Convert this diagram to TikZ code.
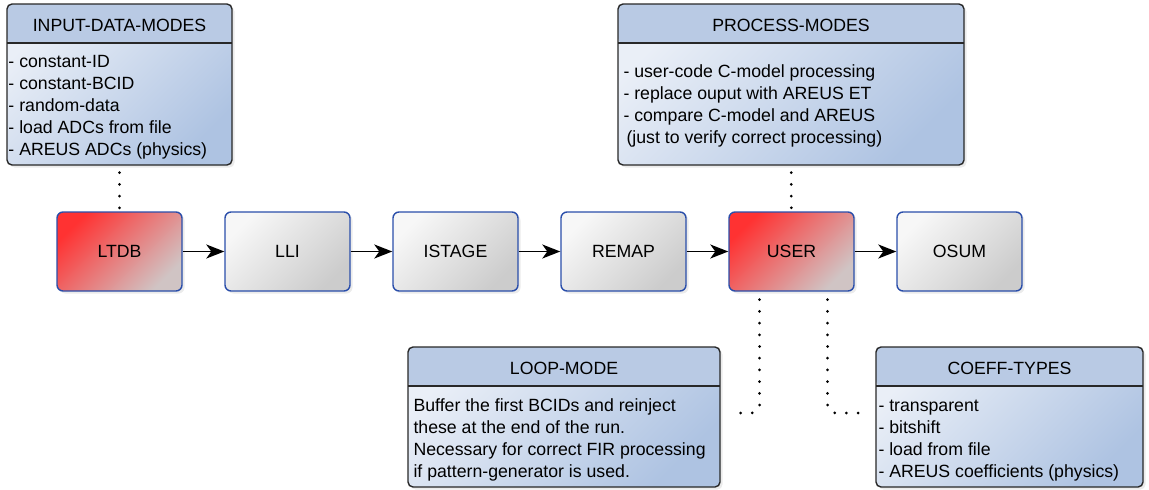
\documentclass[tikz,border=0pt]{standalone}
\usepackage{fontspec}
\setmainfont{Liberation Sans}
\usetikzlibrary{arrows.meta,shadows}

\definecolor{headblue}{RGB}{185,202,228}
\definecolor{bodylight}{RGB}{234,239,247}
\definecolor{bodydark}{RGB}{174,195,226}
\definecolor{frameblue}{RGB}{42,78,170}
\definecolor{framedark}{RGB}{40,40,40}
\definecolor{greylight}{RGB}{247,247,247}
\definecolor{greydark}{RGB}{204,204,204}
\definecolor{redlight}{RGB}{255,50,50}
\definecolor{reddark}{RGB}{208,196,196}

\tikzset{
  txt/.style={font=\fontsize{17.7pt}{22pt}\selectfont, text=black},
  softshadow/.style={drop shadow={shadow xshift=2.5pt, shadow yshift=-2.5pt, opacity=0.16}},
  stage/.style={txt, draw=frameblue, line width=1.4pt, rounded corners=6pt,
    minimum width=125pt, minimum height=79pt,
    left color=greylight, right color=greydark, shading angle=45, softshadow},
  hot/.style={left color=redlight, right color=reddark, shading angle=45},
  info/.style={draw=framedark, line width=1.4pt, rounded corners=5pt,
    left color=bodylight, right color=bodydark, shading angle=45, softshadow,
    path picture={
      \fill[headblue] (path picture bounding box.north west)
        rectangle ([yshift=-39pt]path picture bounding box.north east);
      \draw[framedark, line width=1.4pt]
        ([yshift=-39pt]path picture bounding box.north west)
        -- ([yshift=-39pt]path picture bounding box.north east);}},
  title/.style={txt, anchor=base, inner sep=0pt},
  body/.style={txt, anchor=north west, align=left, inner sep=0pt},
  flow/.style={line width=1.8pt, -{Stealth[length=18pt,width=14pt,inset=5pt]}},
  dotlink/.style={line width=3pt, line cap=round, dash pattern=on 0pt off 11.7pt}
}

\begin{document}
\begin{tikzpicture}[x=1pt,y=-1pt]
\useasboundingbox (0,0) rectangle (1149,490);

% information boxes
\node[info, minimum width=225pt, minimum height=161pt] (inp) at (119.5,84.5) {};
\node[title] (inp-title) at ([yshift=-28pt]inp.north) {INPUT-DATA-MODES};
\node[body] (inp-body) at ([xshift=2pt,yshift=-49pt]inp.north west)
  {\strut - constant-ID\\- constant-BCID\\- random-data\\- load ADCs from file\\- AREUS ADCs (physics)};

\node[info, minimum width=346pt, minimum height=161pt] (proc) at (791,84.5) {};
\node[title] (proc-title) at ([yshift=-28pt]proc.north) {PROCESS-MODES};
\node[body] (proc-body) at ([xshift=6pt,yshift=-59pt]proc.north west)
  {\strut - user-code C-model processing\\- replace ouput with AREUS ET\\- compare C-model and AREUS\\\hspace*{3pt}(just to verify correct processing)};

\node[info, minimum width=312pt, minimum height=140pt] (loop) at (564,417) {};
\node[title] (loop-title) at ([yshift=-28pt]loop.north) {LOOP-MODE};
\node[body] (loop-body) at ([xshift=6pt,yshift=-50pt]loop.north west)
  {\strut Buffer the first BCIDs and reinject\\these at the end of the run.\\Necessary for correct FIR processing\\if pattern-generator is used.};

\node[info, minimum width=267pt, minimum height=140pt] (coeff) at (1009.5,417) {};
\node[title] (coeff-title) at ([yshift=-28pt]coeff.north) {COEFF-TYPES};
\node[body] (coeff-body) at ([xshift=3pt,yshift=-50pt]coeff.north west)
  {\strut - transparent\\- bitshift\\- load from file\\- AREUS coefficients (physics)};

% processing chain
\node[stage, hot] (ltdb) at (119.5,251.5) {LTDB};
\node[stage] (lli) at (287.5,251.5) {LLI};
\node[stage] (istage) at (455.5,251.5) {ISTAGE};
\node[stage] (remap) at (623.5,251.5) {REMAP};
\node[stage, hot] (user) at (791.5,251.5) {USER};
\node[stage] (osum) at (959.5,251.5) {OSUM};

\draw[flow] (ltdb) -- (lli);
\draw[flow] (lli) -- (istage);
\draw[flow] (istage) -- (remap);
\draw[flow] (remap) -- (user);
\draw[flow] (user) -- (osum);

% option links
\draw[dotlink, shorten <=7pt, shorten >=2pt] (inp) -- (ltdb);
\draw[dotlink, shorten <=7pt, shorten >=2pt] (proc) -- (user);
\draw[dotlink, rounded corners=8pt, shorten <=8pt, shorten >=9pt]
  ([xshift=-32pt]user.south) |- ([yshift=4pt]loop.east);
\draw[dotlink, rounded corners=8pt, shorten <=8pt, shorten >=8pt]
  ([xshift=36pt]user.south) |- ([yshift=4pt]coeff.west);
\end{tikzpicture}
\end{document}
